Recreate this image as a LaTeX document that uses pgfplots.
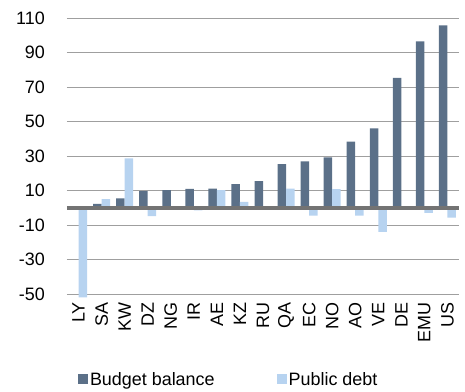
\documentclass[border=0pt]{standalone}
\usepackage{pgfplots}
\pgfplotsset{compat=1.18}
\usepackage{fontspec}
\setmainfont{Liberation Sans}
\definecolor{bb}{RGB}{91,112,136}
\definecolor{pd}{RGB}{183,211,240}
\definecolor{zl}{RGB}{115,115,115}
\begin{document}
\begin{tikzpicture}
\useasboundingbox (-67bp,-98bp) rectangle (398bp,294bp);
\begin{axis}[
  at={(0,0)}, anchor=south west,
  scale only axis, width=392bp, height=276bp,
  ymin=-50, ymax=110, xmin=-0.5, xmax=16.5,
  clip=false,
  ybar=0pt, bar width=8.5bp,
  ytick={-50,-30,...,110},
  xtick={0,...,16},
  xticklabels={LY,SA,KW,DZ,NG,IR,AE,KZ,RU,QA,EC,NO,AO,VE,DE,EMU,US},
  /pgf/number format/assume math mode=true,
  every tick label/.append style={font=\fontsize{18}{20}\selectfont},
  xticklabel shift=8bp,
  x tick label style={rotate=90, anchor=east, inner sep=0pt},
  y tick label style={anchor=east, inner sep=0pt, xshift=-22bp},
  ymajorgrids, grid style={gray!75, line width=0.9bp},
  axis line style={draw=none},
  major tick length=0pt, tick style={draw=none},
  legend columns=2,
  legend style={at={(0.02,-0.309)}, anchor=west, draw=none, fill=none,
    font=\fontsize{18}{20}\selectfont,
    /tikz/every even column/.append style={column sep=60bp}},
  legend cell align=left,
  legend image code/.code={\path[#1] (0bp,-5bp) rectangle (10bp,5bp);},
]
\addplot[fill=bb, draw=none] coordinates {(0,0) (1,2.2) (2,5.5) (3,9.6) (4,10.2) (5,10.9) (6,11.1) (7,13.7) (8,15.4) (9,25.3) (10,26.9) (11,29.2) (12,38.3) (13,46) (14,75.3) (15,96.4) (16,105.7)};
\addlegendentry{Budget balance}
\addplot[fill=pd, draw=none] coordinates {(0,-52) (1,5) (2,28.6) (3,-4.8) (4,-1) (5,-1.5) (6,10.2) (7,3.4) (8,0) (9,11.1) (10,-4.5) (11,10.8) (12,-4.5) (13,-14) (14,0) (15,-3) (16,-5.7)};
\addlegendentry{Public debt}
\draw[zl, line width=4bp] (axis cs:-0.5,0) -- (axis cs:16.5,0);
\end{axis}
\end{tikzpicture}
\end{document}
